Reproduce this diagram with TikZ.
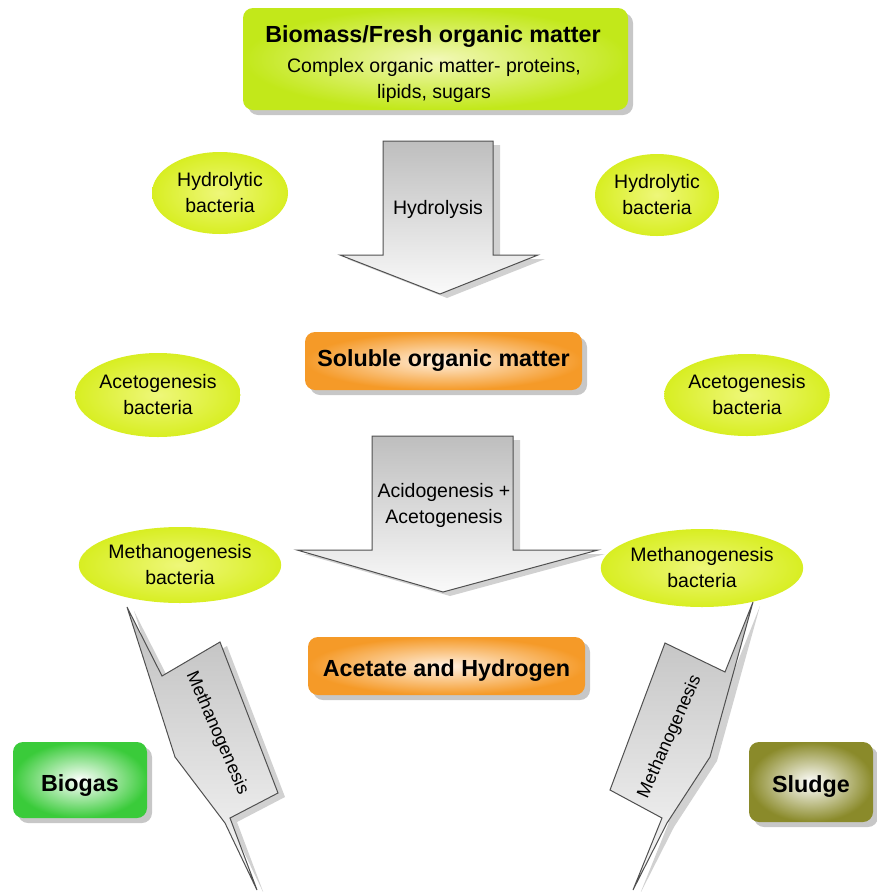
\documentclass[tikz,border=0pt]{standalone}
\usepackage{fontspec}
\setmainfont{Liberation Sans}
\usetikzlibrary{shadows,shapes.geometric}
\definecolor{limeout}{HTML}{C2E81A}
\definecolor{limein}{HTML}{F2F8B8}
\definecolor{ellout}{HTML}{D8EE22}
\definecolor{ellin}{HTML}{EEF77A}
\definecolor{orout}{HTML}{F59A28}
\definecolor{orin}{HTML}{FFF0E0}
\definecolor{grout}{HTML}{3ACB3A}
\definecolor{grin}{HTML}{FFFFFF}
\definecolor{olout}{HTML}{8A8A2A}
\definecolor{olin}{HTML}{FFFFFF}
\definecolor{arrtop}{HTML}{BEBEBE}
\definecolor{arrbot}{HTML}{FAFAFA}
\definecolor{arrline}{HTML}{505050}
\newcommand\myhead{\fontsize{23.3}{28}\selectfont\bfseries}
\newcommand\mytext{\fontsize{19.5}{26}\selectfont\mdseries}
\newcommand\myrot{\fontsize{18}{22}\selectfont}
\begin{document}
\begin{tikzpicture}[x=1pt,y=-1pt,
  boxbase/.style={rounded corners=10pt, shading=radial, drop shadow={shadow xshift=5pt, shadow yshift=-5pt, fill=black, opacity=0.22}, inner sep=0pt, align=center, font=\myhead},
  limebox/.style={boxbase, inner color=limein, outer color=limeout},
  orbox/.style={boxbase, inner color=orin, outer color=orout},
  greenbox/.style={boxbase, inner color=grin, outer color=grout},
  olivebox/.style={boxbase, inner color=olin, outer color=olout},
  bact/.style={ellipse, shading=radial, inner color=ellin, outer color=ellout, align=center, font=\mytext, inner sep=0pt},
  blockarrow/.style={draw=arrline, line width=1pt, line join=miter, top color=arrtop, bottom color=arrbot, drop shadow={shadow xshift=7pt, shadow yshift=-4pt, fill=black, opacity=0.18}},
  lbl/.style={font=\mytext, align=center, inner sep=0pt},
  headlbl/.style={font=\myhead, inner sep=0pt, anchor=base},
  baselbl/.style={font=\mytext, inner sep=0pt, anchor=base},
  rotlbl/.style={font=\myrot, inner sep=0pt}
]
\useasboundingbox[fill=white] (0,0) rectangle (877,892);

% block arrows
\path[blockarrow] (383,141) -- (493,141) -- (493,255) -- (538,255) -- (440,294) -- (340,255) -- (383,255) -- cycle;
\node[lbl] (hydl) at (438,209) {Hydrolysis};

\path[blockarrow] (372,436) -- (513,436) -- (513,550) -- (598,550) -- (443,592) -- (297,550) -- (372,550) -- cycle;
\node[lbl] (acidl) at (444,505) {Acidogenesis +\\Acetogenesis};

\path[blockarrow] (127,607) -- (162,676) -- (220,642) -- (278,793) -- (230,818) -- (257,890) -- (225,823) -- (175,757) -- cycle;
\node[rotlbl, rotate=-66.4] (methl) at (217,733) {Methanogenesis};

\path[blockarrow] (753,602) -- (725,672) -- (665,643) -- (610,790) -- (662,818) -- (633,890) -- (667,823) -- (710,757) -- cycle;
\node[rotlbl, rotate=66] (methr) at (670,737) {Methanogenesis};

% boxes
\node[limebox, minimum width=385pt, minimum height=102pt] (bio) at (435.5,59) {};
\node[headlbl] (biot1) at (433,42) {Biomass/Fresh organic matter};
\node[baselbl] (biot2) at (434,72) {Complex organic matter- proteins,};
\node[baselbl] (biot3) at (434,98) {lipids, sugars};
\node[orbox, minimum width=277pt, minimum height=58pt] (sol) at (443.5,361) {Soluble organic matter};
\node[orbox, minimum width=277pt, minimum height=58pt, text height=21pt, text depth=0pt] (acet) at (446.5,666) {Acetate and Hydrogen};
\node[greenbox, minimum width=134pt, minimum height=76pt, text height=23pt, text depth=0pt] (biogas) at (80,780) {Biogas};
\node[olivebox, minimum width=124pt, minimum height=80pt, text height=20pt, text depth=0pt] (sludge) at (811,782) {Sludge};

% bacteria ellipses
\node[bact, minimum width=136pt, minimum height=82pt] (hydL) at (220,193) {Hydrolytic\\bacteria};
\node[bact, minimum width=124pt, minimum height=82pt] (hydR) at (657,195) {Hydrolytic\\bacteria};
\node[bact, minimum width=142pt, minimum height=84pt] (aceL) at (158,395) {Acetogenesis\\bacteria};
\node[bact, minimum width=136pt, minimum height=82pt] (aceR) at (747,395) {Acetogenesis\\bacteria};
\node[bact, minimum width=160pt, minimum height=76pt] (metL) at (180,565) {Methanogenesis\\bacteria};
\node[bact, minimum width=152pt, minimum height=78pt] (metR) at (702,568) {Methanogenesis\\bacteria};
\end{tikzpicture}
\end{document}
